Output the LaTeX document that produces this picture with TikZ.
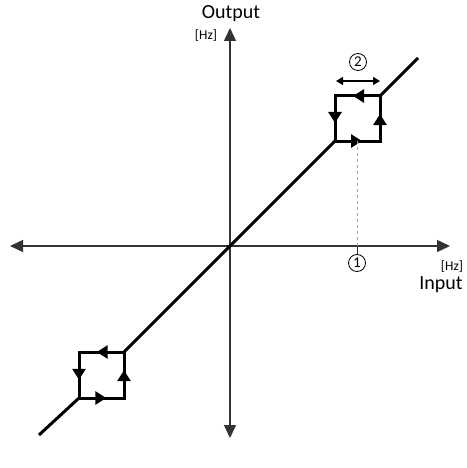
\documentclass[tikz,border=0pt]{standalone}
\usepackage{fontspec}
\setmainfont{Carlito}
\usepackage{tikz}
\usetikzlibrary{positioning,arrows.meta,decorations.markings}

\begin{document}
\begin{tikzpicture}[x=1pt, y=-1pt, font=\fontsize{20}{22}\selectfont,
    axis/.style={draw=black!80, line width=1.4pt, {Triangle[length=13pt,width=12pt]}-{Triangle[length=13pt,width=12pt]}},
    curve/.style={line width=3pt},
    loopbox/.style={line width=3pt, postaction={decorate},
        decoration={markings, mark=between positions 0.15 and 0.9 step 0.25 with {\arrow{Triangle[length=11pt,width=13pt]}}}},
    num/.style={draw, circle, line width=0.8pt, minimum size=17pt, inner sep=0pt, font=\fontsize{15}{15}\selectfont},
    hzlabel/.style={font=\fontsize{13.5}{14}\selectfont}]
    \useasboundingbox (0,0) rectangle (466,468);

    % axes
    \coordinate (O) at (230,246);
    \coordinate (xl) at (10,246);
    \coordinate (xr) at (450,246);
    \coordinate (yt) at (230,28);
    \coordinate (yb) at (230,438);
    \draw[axis] (xl) -- (xr);
    \draw[axis] (yb) -- (yt);

    \node (out) at (231,14) {Output};
    \node[hzlabel] (outhz) at (206,36) {[Hz]};
    \node (in) at (441,285) {Input};
    \node[hzlabel] (inhz) at (452,267) {[Hz]};

    % hysteresis loops
    \coordinate (uBL) at (335,141);
    \coordinate (uTR) at (380,96);
    \coordinate (lBL) at (79,398);
    \coordinate (lTR) at (124,352);
    \coordinate (dlow) at (39,435);
    \coordinate (dhigh) at (418,58);

    \draw[curve] (dlow) -- (lBL);
    \draw[curve] (lTR) -- (uBL);
    \draw[curve] (uTR) -- (dhigh);
    \draw[loopbox] (uTR) -- (uTR -| uBL) -- (uBL) -- (uBL -| uTR) -- cycle;
    \draw[loopbox] (lTR) -- (lTR -| lBL) -- (lBL) -- (lBL -| lTR) -- cycle;

    % markers
    \node[num] (one) at (357,263) {1};
    \draw[black!35, dashed, line width=0.9pt] (uBL -| one) -- (one |- O);
    \draw[black!80, line width=1pt] (one |- O) -- (one.north);

    \node[num] (two) at (358,62) {2};
    \coordinate (wl) at (336,81);
    \coordinate (wr) at (380,81);
    \draw[line width=1.2pt, {Triangle[length=7pt,width=8pt]}-{Triangle[length=7pt,width=8pt]}] (wl) -- (wr);
\end{tikzpicture}
\end{document}
